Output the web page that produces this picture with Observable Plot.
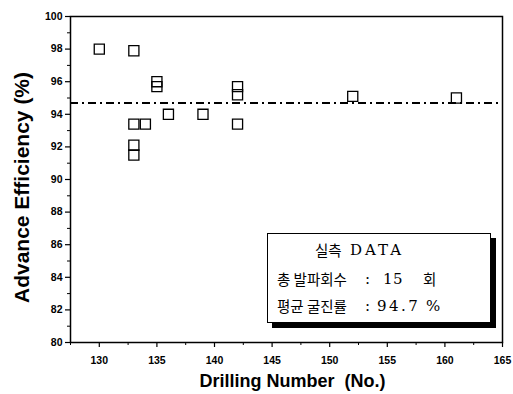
<!DOCTYPE html>
<html><head><meta charset="utf-8">
<script src="https://cdn.jsdelivr.net/npm/d3@7"></script>
<script src="https://cdn.jsdelivr.net/npm/@observablehq/plot@0.6"></script>
<style>
body{margin:0;background:#fff;}
#wrap{position:relative;width:513px;height:394px;}
#legend{position:absolute;left:267px;top:233px;width:222px;height:88px;border:1px solid #000;background:#fff;box-shadow:5px 5px 0 #000;color:#000;}
#legend div{position:absolute;white-space:pre;line-height:20px;height:20px;}
#legend .ko{font-family:"Noto Sans CJK KR",sans-serif;font-size:14.5px;}
#legend .la{font-family:"DejaVu Serif",serif;font-size:15px;}
</style></head>
<body><div id="wrap"></div>
<script>
const drillNo    = [130, 133, 135, 135, 136, 139, 133, 134, 133, 133, 142, 142, 142, 152, 161];
const efficiency = [98.0, 97.9, 96.0, 95.7, 94.0, 94.0, 93.4, 93.4, 92.1, 91.5, 95.7, 95.2, 93.4, 95.1, 95.0];
const meanEfficiency = 94.7;
const xMajorTicks = [130, 135, 140, 145, 150, 155, 160, 165];
const xMinorTicks = [127.5, 132.5, 137.5, 142.5, 147.5, 152.5, 157.5, 162.5];
const yMajorTicks = [80, 82, 84, 86, 88, 90, 92, 94, 96, 98, 100];
const yMinorTicks = [81, 83, 85, 87, 89, 91, 93, 95, 97, 99];
const xTitle = "Drilling Number  (No.)";
const yTitle = "Advance Efficiency (%)";
const legendLine1 = ["실측", "DATA"];
const legendLine2 = ["총 발파회수", ":", "15", "회"];
const legendLine3 = ["평균 굴진률", ":", "94.7", "%"];

const points = drillNo.map((d, i) => ({drill: d, eff: efficiency[i]}));

const chart = Plot.plot({
  width: 513, height: 394,
  marginLeft: 70, marginRight: 11, marginTop: 16, marginBottom: 52,
  style: {fontFamily: "'Liberation Sans', Arial, sans-serif", background: "#fff", color: "#000"},
  x: {domain: [127.5, 165]},
  y: {domain: [80, 100]},
  marks: [
    Plot.axisX({ticks: xMinorTicks, tickSize: 3, text: null, label: null, strokeWidth: 1}),
    Plot.axisX({ticks: xMajorTicks, tickSize: 5, tickPadding: 9, label: null, fontSize: 10.5, fontWeight: "bold", strokeWidth: 1.2}),
    Plot.axisY({ticks: yMinorTicks, tickSize: 3, text: null, label: null, strokeWidth: 1}),
    Plot.axisY({ticks: yMajorTicks, tickSize: 5, tickPadding: 3, label: null, fontSize: 10.5, fontWeight: "bold", strokeWidth: 1.2}),
    Plot.frame({stroke: "#000", strokeWidth: 1.5}),
    Plot.ruleY([meanEfficiency], {stroke: "#000", strokeWidth: 2, strokeDasharray: "8,4,2,4"}),
    Plot.dot(points, {x: "drill", y: "eff", symbol: "square", r: 5.7, stroke: "#000", strokeWidth: 1.3, fill: "none"}),
    Plot.text([xTitle], {frameAnchor: "bottom", dx: 6, dy: 44, text: d => d, fontSize: 18, fontWeight: "bold"}),
    Plot.text([yTitle], {frameAnchor: "left", textAnchor: "middle", dx: -48, dy: 8, rotate: -90, text: d => d, fontSize: 21, fontWeight: "bold"})
  ]
});
const wrap = document.getElementById("wrap");
wrap.appendChild(chart);

const legend = document.createElement("div");
legend.id = "legend";
wrap.appendChild(legend);
// [text, class, left, centerY, letterSpacing]
const layout = [
  [legendLine1[0], "ko", 47, 16, 0], [legendLine1[1], "la", 82, 16, 3],
  [legendLine2[0], "ko", 9, 44.5, 0], [legendLine2[1], "la", 97, 44.5, 0], [legendLine2[2], "la", 115, 44.5, 0.5], [legendLine2[3], "ko", 155, 44.5, 0],
  [legendLine3[0], "ko", 9, 71.5, 0], [legendLine3[1], "la", 97, 71.5, 0], [legendLine3[2], "la", 109, 71.5, 2.5], [legendLine3[3], "la", 158, 71.5, 0]
];
layout.forEach(([t, cls, left, cy, ls]) => {
  const d = document.createElement("div");
  d.className = cls;
  d.textContent = t;
  d.style.left = left + "px";
  d.style.top = (cy - 10) + "px";
  d.style.letterSpacing = ls + "px";
  legend.appendChild(d);
});
</script>
</body></html>
